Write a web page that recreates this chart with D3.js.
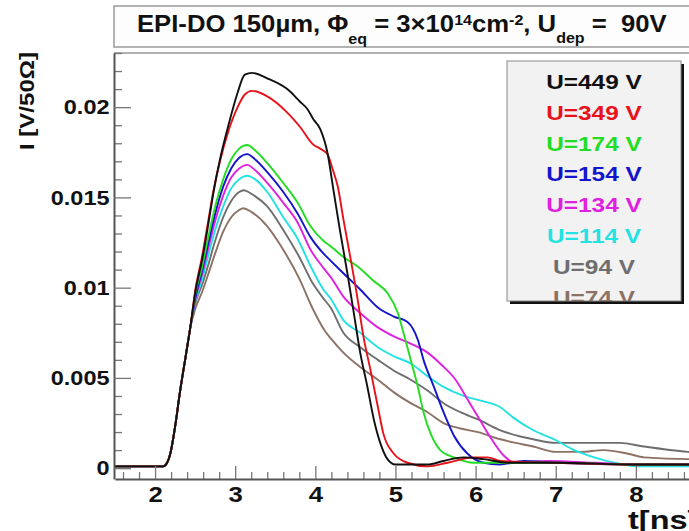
<!DOCTYPE html>
<html lang="en">
<head>
<meta charset="UTF-8">
<title>EPI-DO 150um pulses</title>
<style>
  body { margin: 0; background: #fff; }
  svg { display: block; font-family: "Liberation Sans", Arial, sans-serif; font-weight: bold; }
</style>
</head>
<body>
<script src="https://d3js.org/d3.v7.min.js"></script>
<div id="chart"></div>
<script>
// legend labels and tick values
var labels = ["U=449 V", "U=349 V", "U=174 V", "U=154 V", "U=134 V", "U=114 V", "U=94 V", "U=74 V"]
var xTicks = [2, 3, 4, 5, 6, 7, 8]
var yTicks = [0, 0.005, 0.01, 0.015, 0.02]

// common leading edge, all voltages start together  [t (ns), I (V/50 Ohm)]
var rise = [[1.5,0.0001],[1.8,0.0001],[2.1,0.0001],[2.15,0.0003],[2.19,0.0008],[2.25,0.0023],[2.31,0.0042],[2.375,0.006],[2.44,0.0078]]

var u449 = rise.concat([[2.5,0.0097],[2.59,0.0116],[2.66,0.0134],[2.73,0.0153],[2.81,0.0171],[2.91,0.0189],[3.03,0.0208],[3.12,0.0218],[3.21,0.0219],[3.4,0.0216],[3.65,0.021],[3.81,0.0203],[3.9,0.0199],[3.98,0.0193],[4.06,0.0188],[4.15,0.0175],[4.23,0.0153],[4.31,0.0131],[4.4,0.0108],[4.48,0.0086],[4.56,0.0064],[4.65,0.0045],[4.73,0.0027],[4.81,0.0014],[4.9,0.0005],[5.0,0.0002],[5.4,0.0002],[5.6,0.0004],[5.85,0.0006],[6.1,0.0005],[6.4,0.0003],[7,0.0003],[8,0.0002],[9,0.0002]])
var u349 = rise.concat([[2.5,0.0098],[2.59,0.0118],[2.66,0.0136],[2.73,0.0154],[2.81,0.017],[2.91,0.0186],[3.03,0.02],[3.12,0.0207],[3.21,0.0209],[3.4,0.0206],[3.65,0.0197],[3.81,0.0189],[3.98,0.0179],[4.06,0.0177],[4.15,0.0174],[4.22,0.0165],[4.28,0.0156],[4.35,0.0138],[4.44,0.0116],[4.53,0.0093],[4.6,0.0073],[4.69,0.0054],[4.78,0.0034],[4.85,0.0019],[4.98,0.0008],[5.15,0.0003],[5.4,0.0001],[5.65,0.0003],[5.98,0.0006],[6.15,0.0006],[6.31,0.0004],[7,0.0003],[8,0.0002],[9,0.0002]])
var u174 = rise.concat([[2.5,0.0096],[2.59,0.0112],[2.66,0.0127],[2.75,0.0145],[2.85,0.016],[2.95,0.0171],[3.05,0.0177],[3.15,0.0179],[3.25,0.0176],[3.4,0.0169],[3.6,0.0158],[3.78,0.0147],[3.94,0.0134],[4.1,0.0126],[4.19,0.0123],[4.35,0.0117],[4.52,0.0112],[4.72,0.0104],[4.9,0.0097],[5.03,0.0086],[5.1,0.0075],[5.19,0.006],[5.28,0.0045],[5.35,0.0031],[5.44,0.0019],[5.56,0.001],[5.73,0.0006],[5.98,0.0003],[6.31,0.0003],[7,0.0003],[8,0.0002],[9,0.0002]])
var u154 = rise.concat([[2.5,0.0094],[2.59,0.011],[2.66,0.0124],[2.75,0.0141],[2.85,0.0156],[2.95,0.0166],[3.05,0.0172],[3.15,0.0174],[3.25,0.0171],[3.4,0.0164],[3.6,0.0153],[3.78,0.0141],[3.94,0.0128],[4.1,0.0119],[4.19,0.0115],[4.35,0.0108],[4.56,0.0099],[4.78,0.0089],[4.98,0.0084],[5.15,0.0081],[5.28,0.0071],[5.35,0.006],[5.48,0.0045],[5.6,0.0031],[5.73,0.0018],[5.9,0.0008],[6.1,0.0003],[6.3,0.0002],[6.6,0.0004],[7,0.0003],[8,0.0002],[9,0.0002]])
var u134 = rise.concat([[2.5,0.0093],[2.59,0.0108],[2.66,0.0121],[2.75,0.0137],[2.85,0.0151],[2.95,0.0161],[3.05,0.0166],[3.15,0.0168],[3.25,0.0165],[3.4,0.0158],[3.6,0.0147],[3.78,0.0136],[3.94,0.0121],[4.1,0.0111],[4.19,0.0106],[4.35,0.0095],[4.56,0.0086],[4.78,0.0078],[4.98,0.0073],[5.19,0.0069],[5.4,0.0064],[5.58,0.0057],[5.75,0.0049],[5.9,0.0038],[6.05,0.0027],[6.2,0.0016],[6.35,0.0007],[6.5,0.0003],[6.9,0.0004],[7.5,0.0003],[8,0.0002],[9,0.0002]])
var u114 = rise.concat([[2.5,0.0092],[2.59,0.0105],[2.66,0.0117],[2.75,0.0132],[2.85,0.0145],[2.95,0.0155],[3.05,0.016],[3.15,0.0162],[3.25,0.016],[3.4,0.0153],[3.6,0.0139],[3.78,0.0127],[3.94,0.0112],[4.1,0.0099],[4.19,0.0094],[4.35,0.0082],[4.56,0.0075],[4.78,0.0067],[4.98,0.0062],[5.19,0.0058],[5.4,0.0051],[5.6,0.0045],[5.85,0.004],[6.1,0.0037],[6.3,0.0034],[6.47,0.0028],[6.72,0.0021],[6.98,0.0016],[7.23,0.001],[7.48,0.0006],[7.73,0.0003],[8.06,0.0001],[9,0.0001]])
var u94 = rise.concat([[2.5,0.0091],[2.59,0.0102],[2.66,0.0112],[2.75,0.0126],[2.85,0.0139],[2.95,0.0148],[3.05,0.0153],[3.11,0.0154],[3.2,0.0152],[3.4,0.0145],[3.6,0.0132],[3.8,0.0117],[3.96,0.0103],[4.12,0.0093],[4.19,0.0089],[4.35,0.0075],[4.56,0.0067],[4.78,0.006],[4.98,0.0054],[5.19,0.0049],[5.4,0.0043],[5.6,0.0036],[5.81,0.0031],[6.03,0.0027],[6.31,0.0021],[6.72,0.0016],[7.0,0.0014],[7.5,0.0014],[7.8,0.0014],[8.1,0.0012],[8.65,0.0009],[9,0.0008]])
var u74 = rise.concat([[2.5,0.0088],[2.59,0.0098],[2.66,0.0107],[2.75,0.0119],[2.85,0.0131],[2.95,0.0139],[3.05,0.0143],[3.1,0.0144],[3.2,0.0142],[3.4,0.0134],[3.6,0.0121],[3.8,0.0105],[3.96,0.0089],[4.12,0.0076],[4.19,0.0072],[4.35,0.0064],[4.56,0.0056],[4.78,0.0049],[4.98,0.0042],[5.19,0.0036],[5.4,0.0031],[5.6,0.0025],[5.81,0.0022],[6.03,0.002],[6.31,0.0016],[6.5,0.0014],[6.72,0.0012],[7.0,0.0009],[7.3,0.0009],[7.6,0.001],[7.9,0.0008],[8.1,0.0006],[8.65,0.0005],[9,0.0005]])

var series = [u449, u349, u174, u154, u134, u114, u94, u74]
var colors = ["#111111", "#e8121a", "#22dd22", "#1414cc", "#e020e0", "#22e2e2", "#6e6e6e", "#8c7264"]

var width = 689, height = 531
var plotLeft = 114, plotTop = 53, plotBottom = 479

var svg = d3.select("#chart")
  .append("svg")
  .attr("width", width)
  .attr("height", height)

var x = d3.scaleLinear().domain([1.5, 9]).range([115, 716])
var y = d3.scaleLinear().domain([-0.0006, 0.023]).range([plotBottom, plotTop])

// title box
svg.append("rect")
  .attr("x", 114).attr("y", 6)
  .attr("width", 640).attr("height", 41)
  .attr("fill", "#fdfdfd")
  .attr("stroke", "#999").attr("stroke-width", 1.5)

var title = svg.append("text")
  .attr("x", 0).attr("y", 0)
  .attr("transform", "translate(137,32) scale(1.07,1)")
  .style("font-size", "24px")
  .style("white-space", "pre")
  .attr("fill", "#111")
title.append("tspan").text("EPI-DO 150\u00b5m, \u03a6")
title.append("tspan").attr("dy", 12).style("font-size", "15px").text("eq")
title.append("tspan").attr("dy", -12).text(" = 3\u00d710")
title.append("tspan").attr("dy", -7).style("font-size", "15px").text("14")
title.append("tspan").attr("dy", 7).text("cm")
title.append("tspan").attr("dy", -7).style("font-size", "15px").text("-2")
title.append("tspan").attr("dy", 7).text(", U")
title.append("tspan").attr("dy", 11).style("font-size", "15px").text("dep")
title.append("tspan").attr("dy", -11).text(" =  90V")

// clip for the curves
svg.append("clipPath").attr("id", "plotclip")
  .append("rect")
  .attr("x", plotLeft).attr("y", plotTop)
  .attr("width", width - plotLeft).attr("height", plotBottom - plotTop)

var line = d3.line()
  .x(function(d) { return x(d[0]) })
  .y(function(d) { return y(d[1]) })
  .curve(d3.curveMonotoneX)

var curves = svg.append("g").attr("clip-path", "url(#plotclip)")
// draw lowest voltage first so black ends up on top
for (var i = series.length - 1; i >= 0; i--) {
  curves.append("path")
    .attr("d", line(series[i]))
    .attr("fill", "none")
    .attr("stroke", colors[i])
    .attr("stroke-width", 1.9)
}

// frame top
svg.append("line")
  .attr("x1", plotLeft).attr("x2", width)
  .attr("y1", plotTop).attr("y2", plotTop)
  .attr("stroke", "#999").attr("stroke-width", 1.5)

// x axis: minor ticks every 0.2 ns, major each ns
var xMinor = d3.range(1.6, 9.01, 0.2).filter(function(d) { return Math.abs(d - Math.round(d)) > 0.01 })
svg.append("g")
  .attr("transform", "translate(0," + plotBottom + ")")
  .call(d3.axisBottom(x).tickValues(xMinor).tickSize(-7).tickFormat(""))
  .call(function(g) { g.select(".domain").remove() })
  .selectAll("line").attr("stroke", "#777").attr("stroke-width", 1.3)

var xAxis = svg.append("g")
  .attr("transform", "translate(0," + plotBottom + ")")
  .call(d3.axisBottom(x).tickValues(xTicks).tickSize(-13).tickSizeOuter(0).tickPadding(7).tickFormat(d3.format("d")))
xAxis.select(".domain").attr("stroke", "#555").attr("stroke-width", 2)
xAxis.selectAll(".tick line").attr("stroke", "#777").attr("stroke-width", 1.3)
xAxis.selectAll(".tick text")
  .style("font-size", "23px").attr("fill", "#111")
  .attr("transform", "scale(1.12,1)")

// y axis
var yMinor = d3.range(0.001, 0.0231, 0.001).filter(function(d) { return Math.abs(d / 0.005 - Math.round(d / 0.005)) > 0.01 })
svg.append("g")
  .attr("transform", "translate(" + plotLeft + ",0)")
  .call(d3.axisLeft(y).tickValues(yMinor).tickSize(-8).tickFormat(""))
  .call(function(g) { g.select(".domain").remove() })
  .selectAll("line").attr("stroke", "#777").attr("stroke-width", 1.3)

var yAxis = svg.append("g")
  .attr("transform", "translate(" + plotLeft + ",0)")
  .call(d3.axisLeft(y).tickValues(yTicks).tickSize(-17).tickSizeOuter(0).tickPadding(4)
    .tickFormat(function(d) { return d === 0 ? "0" : String(+d.toFixed(3)) }))
yAxis.select(".domain").attr("stroke", "#555").attr("stroke-width", 2)
yAxis.selectAll(".tick line").attr("stroke", "#777").attr("stroke-width", 1.3)
yAxis.selectAll(".tick text")
  .style("font-size", "21px").attr("fill", "#111")
  .attr("transform", "scale(1.12,1)")

// axis titles
svg.append("text")
  .attr("transform", "translate(34,101) rotate(-90)")
  .attr("text-anchor", "middle")
  .attr("textLength", 98).attr("lengthAdjust", "spacingAndGlyphs")
  .style("font-size", "21px").attr("fill", "#111")
  .text("I [V/50\u03a9]")

svg.append("text")
  .attr("transform", "translate(628,529) scale(1.25,1)")
  .style("font-size", "26px").attr("fill", "#111")
  .text("t[ns]")

// legend
var lg = svg.append("g")
lg.append("rect")
  .attr("x", 510).attr("y", 64).attr("width", 174).attr("height", 240)
  .attr("fill", "#111")
lg.append("rect")
  .attr("x", 507).attr("y", 61).attr("width", 174).attr("height", 240)
  .attr("fill", "#f2f2f2").attr("stroke", "#888").attr("stroke-width", 1)

svg.append("clipPath").attr("id", "legclip")
  .append("rect")
  .attr("x", 507).attr("y", 61).attr("width", 174).attr("height", 240)

lg.append("g").attr("clip-path", "url(#legclip)")
  .selectAll("text")
  .data(labels)
  .join("text")
  .attr("transform", function(d, i) { return "translate(594," + (89 + i * 30.8) + ") scale(1.22,1)" })
  .attr("text-anchor", "middle")
  .style("font-size", "20px")
  .attr("fill", function(d, i) { return colors[i] })
  .text(function(d) { return d })
</script>
</body>
</html>
